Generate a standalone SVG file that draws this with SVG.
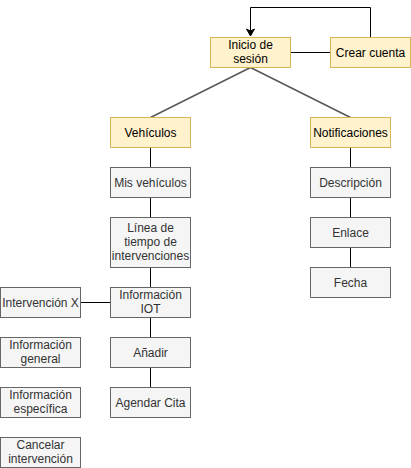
<svg xmlns="http://www.w3.org/2000/svg" width="411" height="468" viewBox="0 0 411 468">
<style>
.y{fill:#fff2cc;stroke:#d6b656;stroke-width:1}
.g{fill:#f5f5f5;stroke:#666666;stroke-width:1}
text{font-family:"Liberation Sans",Arial,sans-serif;font-size:12px;text-anchor:middle}
.ty{fill:#000000}
.tg{fill:#333333}
.c{fill:none;stroke:#000000;stroke-width:1}
.d{fill:none;stroke:#555555;stroke-width:1.5}
</style>
<defs>
<marker id="arr" markerWidth="10" markerHeight="10" refX="8" refY="5" orient="auto" markerUnits="userSpaceOnUse">
<path d="M1,1 L8,5 L1,9 L3,5 Z" fill="#000000" stroke="#000000" stroke-width="1"/>
</marker>
</defs>
<g id="connectors">
<path class="c" d="M370.5,37.5 V7.5 H250.5 V36" marker-end="url(#arr)"/>
<path class="c" d="M330.5,52.5 H290.5"/>
<path class="d" d="M250.5,67.5 L150.5,117.5"/>
<path class="d" d="M250.5,67.5 L350.5,117.5"/>
<path class="c" d="M150.5,147.5 V167.5 M150.5,197.5 V217.5 M150.5,267.5 V287.5 M150.5,317.5 V337.5 M150.5,367.5 V387.5"/>
<path class="c" d="M80.5,302.5 H110.5"/>
<path class="c" d="M350.5,147.5 V167.5 M350.5,197.5 V217.5 M350.5,247.5 V267.5"/>
</g>
<g id="inicio"><rect class="y" x="210.5" y="37.5" width="80" height="30"/><text class="ty" x="250.5" y="49">Inicio de</text><text class="ty" x="250.5" y="63">sesión</text></g>
<g id="crear"><rect class="y" x="330.5" y="37.5" width="80" height="30"/><text class="ty" x="370.5" y="57">Crear cuenta</text></g>
<g id="vehiculos"><rect class="y" x="110.5" y="117.5" width="80" height="30"/><text class="ty" x="150.5" y="137">Vehículos</text></g>
<g id="notificaciones"><rect class="y" x="310.5" y="117.5" width="80" height="30"/><text class="ty" x="350.5" y="137">Notificaciones</text></g>
<g id="misvehiculos"><rect class="g" x="110.5" y="167.5" width="80" height="30"/><text class="tg" x="150.5" y="187">Mis vehículos</text></g>
<g id="linea"><rect class="g" x="110.5" y="217.5" width="80" height="50"/><text class="tg" x="150.5" y="232">Línea de</text><text class="tg" x="150.5" y="246">tiempo de</text><text class="tg" x="150.5" y="260">intervenciones</text></g>
<g id="infoiot"><rect class="g" x="110.5" y="287.5" width="80" height="30"/><text class="tg" x="150.5" y="299">Información</text><text class="tg" x="150.5" y="313">IOT</text></g>
<g id="anadir"><rect class="g" x="110.5" y="337.5" width="80" height="30"/><text class="tg" x="150.5" y="357">Añadir</text></g>
<g id="agendar"><rect class="g" x="110.5" y="387.5" width="80" height="30"/><text class="tg" x="150.5" y="407">Agendar Cita</text></g>
<g id="intervencionx"><rect class="g" x="0.5" y="287.5" width="80" height="30"/><text class="tg" x="40.5" y="307">Intervención X</text></g>
<g id="infogeneral"><rect class="g" x="0.5" y="337.5" width="80" height="30"/><text class="tg" x="40.5" y="349">Información</text><text class="tg" x="40.5" y="363">general</text></g>
<g id="infoespecifica"><rect class="g" x="0.5" y="387.5" width="80" height="30"/><text class="tg" x="40.5" y="399">Información</text><text class="tg" x="40.5" y="413">específica</text></g>
<g id="cancelar"><rect class="g" x="0.5" y="437.5" width="80" height="30"/><text class="tg" x="40.5" y="449">Cancelar</text><text class="tg" x="40.5" y="463">intervención</text></g>
<g id="descripcion"><rect class="g" x="310.5" y="167.5" width="80" height="30"/><text class="tg" x="350.5" y="187">Descripción</text></g>
<g id="enlace"><rect class="g" x="310.5" y="217.5" width="80" height="30"/><text class="tg" x="350.5" y="237">Enlace</text></g>
<g id="fecha"><rect class="g" x="310.5" y="267.5" width="80" height="30"/><text class="tg" x="350.5" y="287">Fecha</text></g>
</svg>
